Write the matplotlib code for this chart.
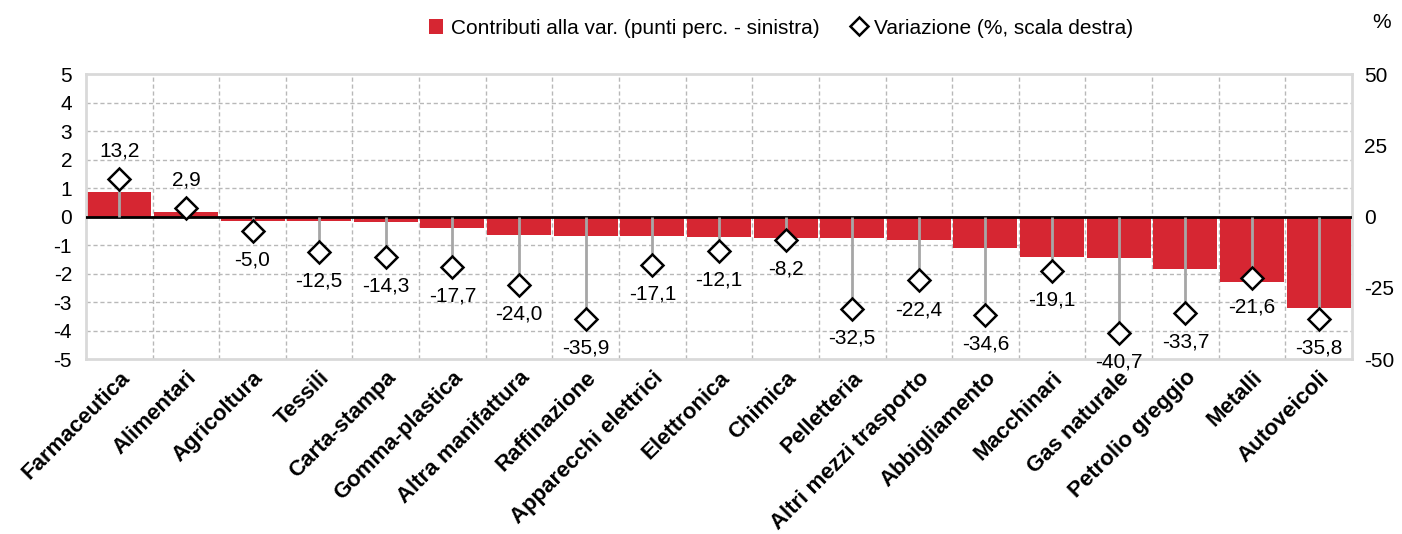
import matplotlib
matplotlib.use("Agg")
import matplotlib.pyplot as plt
from matplotlib.lines import Line2D
from matplotlib.patches import Patch
import numpy as np

plt.rcParams["font.family"] = ["Liberation Sans", "DejaVu Sans"]
plt.rcParams["axes.unicode_minus"] = False

sectors = ["Farmaceutica", "Alimentari", "Agricoltura", "Tessili", "Carta-stampa",
           "Gomma-plastica", "Altra manifattura", "Raffinazione", "Apparecchi elettrici",
           "Elettronica", "Chimica", "Pelletteria", "Altri mezzi trasporto",
           "Abbigliamento", "Macchinari", "Gas naturale", "Petrolio greggio",
           "Metalli", "Autoveicoli"]
contributi = [0.87, 0.16, -0.14, -0.16, -0.21, -0.42, -0.65, -0.68, -0.68, -0.71,
              -0.77, -0.77, -0.84, -1.10, -1.41, -1.47, -1.84, -2.29, -3.20]
variazione = [13.2, 2.9, -5.0, -12.5, -14.3, -17.7, -24.0, -35.9, -17.1, -12.1,
              -8.2, -32.5, -22.4, -34.6, -19.1, -40.7, -33.7, -21.6, -35.8]

red = "#d62632"
fs = 15

fig = plt.figure(figsize=(14.02, 5.34), dpi=100)
ax = fig.add_axes([0.0613, 0.3277, 0.9030, 0.5337])
x = np.arange(len(sectors))

ax.bar(x, contributi, width=0.96, color=red, zorder=2)
ax.axhline(0, color="black", lw=2, zorder=3)
ax.set_xlim(-0.5, len(sectors) - 0.5)
ax.set_ylim(-5, 5)
ax.set_yticks(range(-5, 6))
ax.tick_params(axis="both", length=0)
ax.tick_params(axis="y", pad=10, labelsize=fs)
ax.tick_params(axis="x", pad=6, labelsize=16)
ax.set_xticks(x)
ax.set_xticklabels(sectors, rotation=45, ha="right", rotation_mode="anchor",
                   fontsize=16, fontweight="bold")

# griglia
ax.set_axisbelow(True)
for yv in range(-4, 5):
    ax.axhline(yv, color="#b8b8b8", lw=1, ls=(0, (3, 2)), zorder=0)
for b in x[:-1] + 0.5:
    ax.axvline(b, color="#b8b8b8", lw=1, ls=(0, (3, 2)), zorder=0)
for s in ax.spines.values():
    s.set_color("#d9d9d9")
    s.set_linewidth(2)

ax2 = ax.twinx()
ax2.set_ylim(-50, 50)
ax2.set_yticks([-50, -25, 0, 25, 50])
ax2.tick_params(axis="y", length=0, labelsize=fs, pad=9)
for s in ax2.spines.values():
    s.set_visible(False)

ax2.vlines(x, 0, variazione, color="#a6a6a6", lw=2, zorder=3)
ax2.plot(x, variazione, ls="none", marker="D", ms=11, mfc="white", mec="black",
         mew=1.8, zorder=4, clip_on=False)
for xi, v in zip(x, variazione):
    lab = f"{v:.1f}".replace(".", ",")
    off = 20 if v > 0 else -21
    ax2.annotate(lab, (xi, v), xytext=(0, off), textcoords="offset points",
                 ha="center", va="center", fontsize=fs, annotation_clip=False)

handles = [Patch(facecolor=red, edgecolor="none"),
           Line2D([], [], ls="none", marker="D", ms=9, mfc="white", mec="black", mew=1.8)]
fig.legend(handles, ["Contributi alla var. (punti perc. - sinistra)",
                     "Variazione (%, scala destra)"],
           loc="center", bbox_to_anchor=(781 / 1402, 1 - 28 / 534), ncol=2,
           frameon=False, fontsize=fs, handlelength=0.7, handletextpad=0.4,
           columnspacing=1.5)
fig.text(1382 / 1402, 1 - 22 / 534, "%", fontsize=fs, ha="center", va="center")

fig.savefig("out.png", dpi=100)
